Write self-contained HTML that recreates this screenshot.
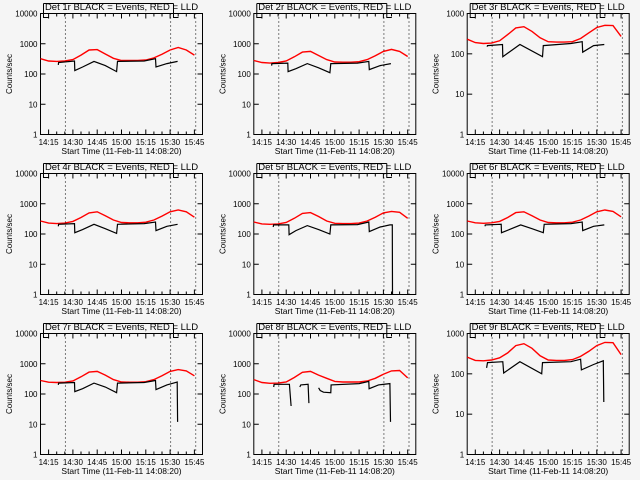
<!DOCTYPE html>
<html><head><meta charset="utf-8">
<style>
html,body{margin:0;padding:0;background:#f5f5f5;}
svg{display:block;}
text{font-family:"Liberation Sans",sans-serif;fill:#000;}
</style></head>
<body>
<svg id="chart" width="640" height="480" viewBox="0 0 640 480" xmlns="http://www.w3.org/2000/svg"></svg>
<script>
// ---- data ----
const panelNames = ["Det 1r","Det 2r","Det 3r","Det 4r","Det 5r","Det 6r","Det 7r","Det 8r","Det 9r"];
const yMaxes = [10000,10000,1000,10000,10000,10000,10000,10000,1000];
const yTickLabels10k = ["1","10","100","1000","10000"];
const yTickLabels1k = ["1","10","100","1000"];
const xTickMinutes = [15,30,45,60,75,90,105];
const xTickLabels = ["14:15","14:30","14:45","15:00","15:15","15:30","15:45"];
const dottedLines = [25.4,90.3,105.8];
const redTimes = [10,15,20,25,30,35,40,45,50,55,60,65,70,75,80,85,90,95,100,105];
const redVals = [
 [320,270,260,270,300,420,620,640,460,330,280,280,280,290,340,450,620,750,620,420],
 [280,240,230,240,270,370,530,560,410,300,250,245,245,255,300,400,560,650,560,380],
 [230,190,180,185,210,300,440,470,360,250,200,195,195,200,240,330,450,510,500,270],
 [270,230,220,230,260,350,500,540,400,290,240,235,235,245,290,390,540,620,540,360],
 [250,215,210,215,240,330,480,510,380,270,225,220,220,230,270,360,500,560,520,330],
 [270,235,225,235,260,350,510,540,400,290,240,235,235,245,290,390,540,620,560,370],
 [280,245,240,245,270,370,530,560,420,300,250,245,245,255,300,400,560,640,580,400],
 [300,240,225,230,250,350,520,560,420,330,260,250,250,250,270,330,450,580,600,340],
 [260,215,210,220,250,330,500,560,430,280,220,215,215,225,270,360,500,600,590,300]
];
const blackTimes = [
 [21,21.2,31,31.2,36,43,50,57,57.5,74,81,81.3,88,94.6],
 [21,21.2,31,31.2,36,43,50,57,57.5,74,81,81.3,88,94.6],
 [22.3,22.5,31.8,32,42.5,56.5,57,74,81,81.3,88,94.6],
 [21,21.2,31,31.2,36,43,50,57,57.5,74,81,81.3,88,94.6],
 [22,22.2,31.6,31.8,36,43,50,57,57.5,74,81,81.3,88,94,95.5,95.6],
 [21,21.2,31,31.2,36,43,50,57,57.5,74,81,81.3,88,94.6],
 [21,21.2,31,31.2,36,43,50,57,57.5,74,81,81.3,88,94.4,94.6],
 [22.3,22.5,32,33,33.1,38.4,39,43.5,44,44.1,50,51,53,57.5,57.7,75,81,81.2,87,94,94.4],
 [22,22.5,32,32.5,42.5,56,56.5,74,80,80.5,88,94,94.3]
];
const blackVals = [
 [200,240,270,130,170,260,190,120,260,270,320,170,220,260],
 [190,220,230,120,150,220,160,110,220,230,260,140,190,220],
 [150,160,170,85,170,85,160,180,200,110,160,170],
 [180,210,220,110,140,210,150,105,210,220,250,130,180,210],
 [170,200,200,95,130,190,140,100,200,205,250,120,170,200,200,1],
 [180,200,210,110,140,200,150,110,210,220,250,130,180,200],
 [200,230,240,120,150,230,170,110,230,240,280,140,200,250,12],
 [170,210,210,40,null,170,200,210,50,null,160,130,115,110,200,220,260,150,200,220,12],
 [140,190,200,105,200,100,190,200,230,125,170,210,20]
];
// ---- layout ----
const svg = document.getElementById('chart');
const NS = 'http://www.w3.org/2000/svg';
const PW = 213.33, PH = 160;
const BL = 40.5, BR = 202.5, BT = 13.5, BB = 134.5;
const T0 = 10, T1 = 110;
function mk(tag, attrs, parent){const e=document.createElementNS(NS,tag);for(const k in attrs)e.setAttribute(k,attrs[k]);parent.appendChild(e);return e;}
function xs(t){return BL+(t-T0)/(T1-T0)*(BR-BL);}
function ysFor(ymax){return v=>BB-Math.log10(v)/Math.log10(ymax)*(BB-BT);}

for(let p=0;p<9;p++){
  const col=p%3,row=Math.floor(p/3);
  const g=mk('g',{transform:`translate(${(col*PW).toFixed(1)},${row*PH})`},svg);
  
  
  const ymax=yMaxes[p], ys=ysFor(ymax);
  const tl = ymax===10000?yTickLabels10k:yTickLabels1k;
  const br=mk('path',{d:`M43.5,3.5 H173.5 M43.5,3.5 V17.5 H48.5 M173.5,3.5 V17.5 H178.5`,stroke:'#000','stroke-width':1,fill:'none'},g);
  
  
  const title=mk('text',{x:(BL+BR)/2,y:10,'text-anchor':'middle','font-size':'9.5'},g);
  title.textContent=panelNames[p]+" BLACK = Events, RED = LLD";
  
  
  const box=mk('rect',{x:BL,y:BT,width:BR-BL,height:BB-BT,fill:'none',stroke:'#000','stroke-width':1},g);
  
  
  for(let i=0;i<tl.length;i++){
    const v=Math.pow(10,i), y=ys(v);
    mk('line',{x1:BL,x2:BL+5,y1:y,y2:y,stroke:'#000'},g);
    mk('line',{x1:BR,x2:BR-5,y1:y,y2:y,stroke:'#000'},g);
    const t=mk('text',{x:BL-3,y:y+3,'text-anchor':'end','font-size':'8'},g);
    t.textContent=tl[i];
    
    
  }
  for(let m=15;m<=105;m+=5){
    const x=xs(m), L=(m%15===0)?5:3;
    mk('line',{x1:x,x2:x,y1:BB,y2:BB-L,stroke:'#000'},g);
    mk('line',{x1:x,x2:x,y1:BT,y2:BT+L,stroke:'#000'},g);
  }
  for(let i=0;i<xTickMinutes.length;i++){
    const t=mk('text',{x:xs(xTickMinutes[i]),y:145,'text-anchor':'middle','font-size':'8'},g);
    t.textContent=xTickLabels[i];
    
    
  }
  const xt=mk('text',{x:(BL+BR)/2,y:154,'text-anchor':'middle','font-size':'8.5'},g);
  xt.textContent="Start Time (11-Feb-11 14:08:20)";
  
  
  const yt=mk('text',{x:0,y:0,'text-anchor':'middle','font-size':'8',transform:`translate(12,${(BT+BB)/2}) rotate(-90)`},g);
  yt.textContent="Counts/sec";
  
  
  for(const d of dottedLines){
    const l=mk('line',{x1:xs(d),x2:xs(d),y1:BT,y2:BB,stroke:'#000','stroke-width':1,'stroke-dasharray':'1,3'},g);
    
    
  }
  let rd='';
  redTimes.forEach((t,i)=>{rd+=(i?'L':'M')+xs(t).toFixed(1)+','+ys(redVals[p][i]).toFixed(1);});
  const rl=mk('path',{d:rd,stroke:'#ff0000','stroke-width':1.4,fill:'none'},g);
  
  
  let bd='',pen=false;
  blackTimes[p].forEach((t,i)=>{
    const v=blackVals[p][i];
    if(v==null){pen=false;return;}
    bd+=(pen?'L':'M')+xs(t).toFixed(1)+','+ys(v).toFixed(1);pen=true;
  });
  const bl=mk('path',{d:bd,stroke:'#000','stroke-width':1.2,fill:'none'},g);
  
  
}
</script>
</body></html>
